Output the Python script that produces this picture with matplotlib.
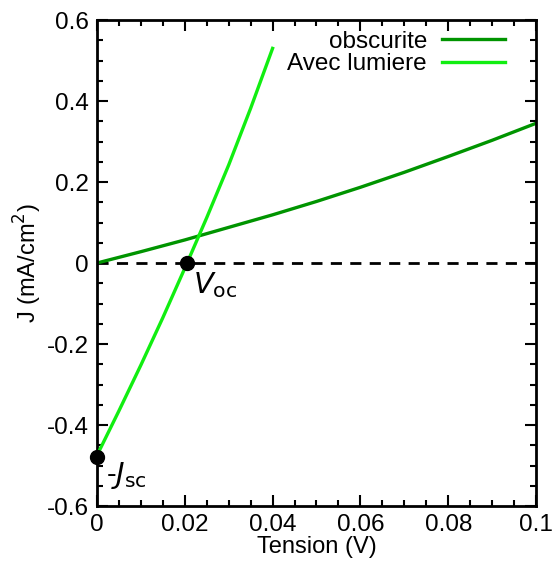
import matplotlib
matplotlib.use("Agg")
import matplotlib.pyplot as plt
from matplotlib.ticker import MultipleLocator

plt.rcParams['font.family'] = ['Liberation Sans', 'DejaVu Sans']
plt.rcParams['mathtext.fontset'] = 'dejavusans'

# obscurite (dark current)
v_dark = [0.0, 0.01, 0.02, 0.03, 0.04, 0.05, 0.06, 0.07, 0.08, 0.09, 0.1]
j_dark = [0.0, 0.028, 0.057, 0.088, 0.119, 0.152, 0.187, 0.224, 0.263, 0.303, 0.345]

# avec lumiere (illuminated)
v_light = [0.0, 0.005, 0.01, 0.015, 0.02, 0.025, 0.03, 0.035, 0.04]
j_light = [-0.475, -0.365, -0.252, -0.135, -0.013, 0.112, 0.242, 0.382, 0.53]

# points remarquables
pts_v = [0.0, 0.0205]
pts_j = [-0.48, 0.0]

fig = plt.figure(figsize=(5.57, 5.61), dpi=100)
ax = fig.add_axes([0.1741, 0.098, 0.7882, 0.8663])

ax.axhline(0, color='black', lw=2, ls=(0, (4, 3)), zorder=1)
ax.plot(v_dark, j_dark, color='#009400', lw=2.4, label='obscurite', zorder=2)
ax.plot(v_light, j_light, color='#11ee11', lw=2.4, label='Avec lumiere', zorder=3)
ax.plot(pts_v, pts_j, 'o', color='black', ms=10, clip_on=False, zorder=5)

ax.text(0.0218, -0.074, r'$V_{\mathrm{oc}}$', fontsize=21, ha='left', va='baseline')
ax.text(0.0020, -0.543, r'-$J_{\mathrm{sc}}$', fontsize=21, ha='left', va='baseline')

ax.set_xlim(0, 0.1)
ax.set_ylim(-0.6, 0.6)
ax.xaxis.set_minor_locator(MultipleLocator(0.005))
ax.yaxis.set_minor_locator(MultipleLocator(0.05))
ax.set_xticks([0, 0.02, 0.04, 0.06, 0.08, 0.1])
ax.set_xticklabels(['0', '0.02', '0.04', '0.06', '0.08', '0.1'])
ax.set_yticks([-0.6, -0.4, -0.2, 0, 0.2, 0.4, 0.6])
ax.set_yticklabels(['-0.6', '-0.4', '-0.2', '0', '0.2', '0.4', '0.6'])
ax.tick_params(which='both', direction='in', top=True, right=True, labelsize=17.5, width=1.5, pad=6)
ax.tick_params(which='major', length=8)
ax.tick_params(which='minor', length=4)
for s in ax.spines.values():
    s.set_linewidth(2)

ax.set_xlabel('Tension (V)', fontsize=17, labelpad=0)
ax.set_ylabel(r'J (mA/cm$^2$)', fontsize=17, labelpad=2)

leg = ax.legend(loc='upper right', frameon=False, fontsize=17.5, markerfirst=False,
                handlelength=2.6, handletextpad=0.6, borderaxespad=0.2,
                labelspacing=0.02, bbox_to_anchor=(0.962, 1.008))
for t in leg.get_texts():
    t.set_ha('right')

fig.savefig('out.png', dpi=100)
